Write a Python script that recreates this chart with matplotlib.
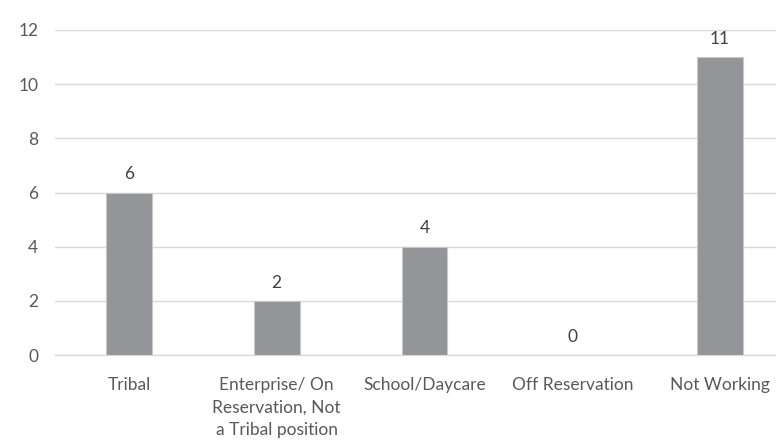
import numpy as np
import matplotlib.pyplot as plt

# employment categories and counts
categories = ['Tribal', 'Enterprise/ On\nReservation, Not\na Tribal position',
              'School/Daycare', 'Off Reservation', 'Not Working']
counts = [6, 2, 4, 0, 11]
yticks = [0, 2, 4, 6, 8, 10, 12]

plt.rcParams['font.family'] = ['Lato', 'DejaVu Sans']

fig = plt.figure(figsize=(7.76, 4.47), dpi=100)
# plot area runs a little past the right edge, as in the cropped original
ax = fig.add_axes([55 / 776, 92 / 447, 739 / 776, 325 / 447])

x = np.arange(len(categories))
ax.bar(x, counts, width=0.31, color='#939598', edgecolor='#c8c8c8', linewidth=0.8, zorder=3)

for i, v in enumerate(counts):
    ax.text(i, v + 0.38, str(v), ha='center', va='bottom', fontsize=12.5, color='#404040')

ax.set_xlim(-0.5, len(categories) - 0.5)
ax.set_ylim(0, 12)
ax.set_yticks(yticks)
ax.set_xticks(x)
ax.set_xticklabels(categories, fontsize=12.5, color='#595959', linespacing=1.5)
ax.tick_params(axis='y', labelsize=12.5, labelcolor='#595959', length=0, pad=12)
ax.tick_params(axis='x', length=0, pad=16)
ax.grid(axis='y', color='#d9d9d9', linewidth=1, zorder=0)
for s in ['top', 'right', 'left']:
    ax.spines[s].set_visible(False)
ax.spines['bottom'].set_color('#d9d9d9')
ax.spines['bottom'].set_linewidth(1)

plt.savefig('out.png', dpi=100)
